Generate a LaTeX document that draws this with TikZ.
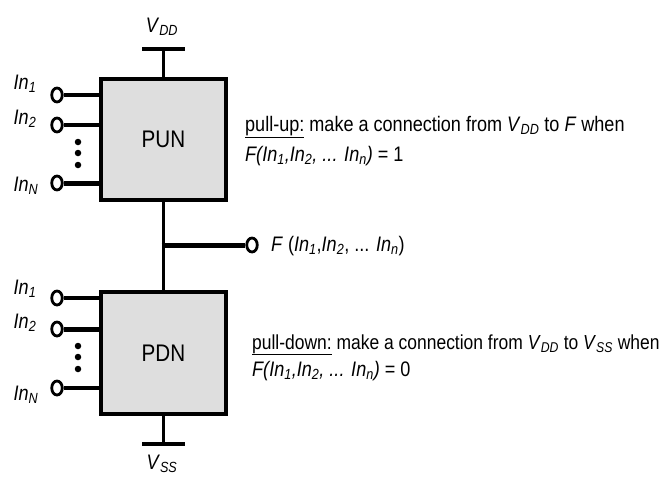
\documentclass[tikz,border=0pt]{standalone}
\usepackage{fontspec}
\setmainfont[FakeStretch=0.86]{Liberation Sans}
\usetikzlibrary{shapes.geometric}
\definecolor{boxgray}{RGB}{222,222,222}
\newcommand{\mysb}[1]{\textsubscript{\itshape #1}}
\newcommand{\myin}[1]{\textit{In}\mysb{#1}}
\begin{document}
\begin{tikzpicture}[x=1pt,y=-1pt,
  wire/.style={line width=3.6pt},
  thickwire/.style={line width=5pt},
  netbox/.style={draw, line width=3.8pt, fill=boxgray, minimum width=125pt, minimum height=121pt, inner sep=0pt, font=\fontsize{24}{28}\selectfont},
  inpin/.style={draw, ellipse, line width=2.8pt, fill=white, minimum width=10.5pt, minimum height=14pt, inner sep=0pt},
  lbl/.style={inner sep=0pt, font=\fontsize{21}{25}\selectfont},
  txt/.style={inner sep=0pt, anchor=base west, font=\fontsize{21}{25}\selectfont},
  bigdot/.style={circle, fill=black, minimum size=6.5pt, inner sep=0pt},
]
\useasboundingbox (0,0) rectangle (670,479);

% boxes
\node[netbox] (pun) at (163.5,139.5) {PUN};
\node[netbox, minimum height=122pt] (pdn) at (163.5,353) {PDN};

% VDD rail
\coordinate (vdd) at (163.5,49);
\coordinate (vddl) at (142,49);
\coordinate (vddr) at (185,49);
\draw[wire] (pun.north) -- (vdd);
\draw[wire] (vddl) -- (vddr);
\node[lbl] (vddlbl) at (162,27) {\textit{V}\mysb{DD}};

% VSS rail
\coordinate (vss) at (163.5,444);
\coordinate (vssl) at (142,444);
\coordinate (vssr) at (185,444);
\draw[wire] (pdn.south) -- (vss);
\draw[wire] (vssl) -- (vssr);
\node[lbl] (vsslbl) at (162,464) {\textit{V}\mysb{SS}};

% output
\coordinate (junc) at (161.7,245);
\draw[wire] (pun.south) -- (pdn.north);
\node[inpin] (out) at (252,245) {};
\draw[thickwire] (junc) -- (out.west);
\node[lbl, anchor=west] (flbl) at (271,246) {\textit{F} (\myin{1},\myin{2}, ... \myin{n})};

% PUN inputs
\node[inpin] (a1) at (57,95) {};
\node[inpin] (a2) at (57,125) {};
\node[inpin] (aN) at (57,183) {};
\draw[wire] (a1.east) -- (a1.east -| pun.west);
\draw[wire] (a2.east) -- (a2.east -| pun.west);
\draw[thickwire] (aN.east) -- (aN.east -| pun.west);
\node[lbl] (la1) at (25,84) {\myin{1}};
\node[lbl] (la2) at (25,119) {\myin{2}};
\node[lbl] (laN) at (26,186) {\myin{N}};
\node[bigdot] (da1) at (78,142) {};
\node[bigdot] (da2) at (78,153) {};
\node[bigdot] (da3) at (78,165) {};

% PDN inputs
\node[inpin] (b1) at (57,298) {};
\node[inpin] (b2) at (57,329) {};
\node[inpin] (bN) at (57,388) {};
\draw[wire] (b1.east) -- (b1.east -| pdn.west);
\draw[thickwire] (b2.east) -- (b2.east -| pdn.west);
\draw[wire] (bN.east) -- (bN.east -| pdn.west);
\node[lbl] (lb1) at (25,289) {\myin{1}};
\node[lbl] (lb2) at (25,323) {\myin{2}};
\node[lbl] (lbN) at (26,395) {\myin{N}};
\node[bigdot] (db1) at (78,346) {};
\node[bigdot] (db2) at (78,357) {};
\node[bigdot] (db3) at (78,369) {};

% descriptions
\node[txt] (up1) at (245,131) {\underline{pull-up:} make a connection from \textit{V}\mysb{DD} to \textit{F} when};
\node[txt] (up2) at (245,161) {\textit{F(\myin{1},\myin{2}, ... \myin{n})} = 1};
\node[txt, font=\fontsize{20.3}{24}\selectfont] (dn1) at (252,349) {\underline{pull-down:} make a connection from \textit{V}\mysb{DD} to \textit{V}\mysb{SS} when};
\node[txt] (dn2) at (252,376) {\textit{F(\myin{1},\myin{2}, ... \myin{n})} = 0};
\end{tikzpicture}
\end{document}
